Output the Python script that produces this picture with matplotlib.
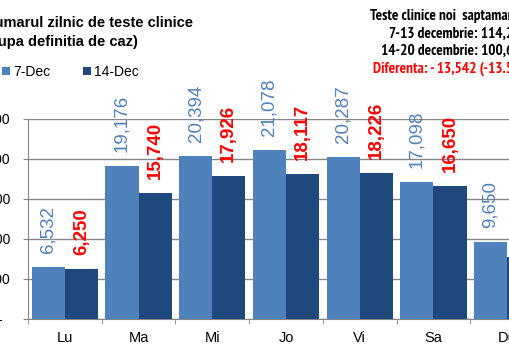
"""Daily clinical tests, two consecutive weeks (grouped bars)."""

import matplotlib

matplotlib.use("Agg")
import matplotlib.pyplot as plt
from matplotlib import font_manager
from matplotlib.ticker import FixedLocator, FuncFormatter

DAYS = ["Lu", "Ma", "Mi", "Jo", "Vi", "Sa", "Du"]
WEEK_7_DEC = [6532, 19176, 20394, 21078, 20287, 17098, 9650]
WEEK_14_DEC = [6250, 15740, 17926, 18117, 18226, 16650, 7764]
SERIES_NAMES = ["7-Dec", "14-Dec"]

TITLE = "Numarul zilnic de teste clinice\n(dupa definitia de caz)"
SUMMARY = [
    "Teste clinice noi  saptamanal:",
    "7-13 decembrie: 114,215",
    "14-20 decembrie: 100,673",
]
DIFF_LINE = "Diferenta: - 13,542 (-13.5%)"

LIGHT = "#4F81BD"
DARK = "#1F497D"
GRID = "#868686"

W, H = 510, 360
plt.rcParams["font.family"] = ["Liberation Sans", "DejaVu Sans"]


def narrow_bold_font():
    """Arial Narrow look-alike if installed, else plain bold at a smaller size."""
    for f in font_manager.fontManager.ttflist:
        name = f"{f.name} {f.fname}".lower()
        if "narrow" in name and "bold" in name and "italic" not in name:
            return font_manager.FontProperties(fname=f.fname, size=11)
    return font_manager.FontProperties(family="Liberation Sans", weight="bold", size=8.6)


fig = plt.figure(figsize=(W / 100, H / 100), dpi=100)
# plot area is wider than the picture: the source image is cropped left and right
ax = fig.add_axes([28 / W, 41 / H, 516 / W, 200 / H])

x = list(range(len(DAYS)))
bw = 0.45
b1 = ax.bar([i - bw / 2 for i in x], WEEK_7_DEC, bw, color=LIGHT, label=SERIES_NAMES[0], zorder=3)
b2 = ax.bar([i + bw / 2 for i in x], WEEK_14_DEC, bw, color=DARK, label=SERIES_NAMES[1], zorder=3)

for bar, v in zip(b1, WEEK_7_DEC):
    ax.annotate(f"{v:,}", (bar.get_x() + bar.get_width() / 2, v), xytext=(0, 14),
                textcoords="offset pixels", rotation=90, ha="center", va="bottom",
                fontsize=13.5, color=LIGHT, annotation_clip=False)
for bar, v in zip(b2, WEEK_14_DEC):
    ax.annotate(f"{v:,}", (bar.get_x() + bar.get_width() / 2, v), xytext=(0, 14),
                textcoords="offset pixels", rotation=90, ha="center", va="bottom",
                fontsize=13.5, color="#FF0000", fontweight="bold", annotation_clip=False)

ax.set_xlim(-0.5, len(DAYS) - 0.5)
ax.set_ylim(0, 25000)
ax.set_yticks(range(0, 25001, 5000))
ax.yaxis.set_major_formatter(FuncFormatter(lambda v, _: "-  " if v == 0 else f"{int(v):,}"))
ax.tick_params(axis="y", length=3.6, color=GRID, pad=9.4, labelsize=10)
ax.grid(axis="y", color=GRID, linewidth=1, zorder=0)

ax.set_xticks(x)
ax.set_xticklabels(DAYS)
ax.xaxis.set_minor_locator(FixedLocator([i - 0.5 for i in range(len(DAYS) + 1)]))
ax.tick_params(axis="x", which="major", length=0, pad=9, labelsize=10.5)
ax.tick_params(axis="x", which="minor", length=3.6, color=GRID)

for side in ("top", "right"):
    ax.spines[side].set_visible(False)
for side in ("left", "bottom"):
    ax.spines[side].set_color(GRID)

fig.text(-16 / W, 1 - 32.5 / H, TITLE, ha="left", va="center", fontsize=10.5,
         fontweight="bold", linespacing=1.5)

fig.legend(loc="center left", bbox_to_anchor=(2 / W, 1 - 72 / H), ncol=2, frameon=False,
           fontsize=10, handlelength=0.58, handleheight=0.58, handletextpad=0.25,
           columnspacing=2.3, borderpad=0, borderaxespad=0)

narrow = narrow_bold_font()
ys = [16, 34, 51]
for y, line in zip(ys, SUMMARY):
    fig.text(528 / W, 1 - y / H, line, ha="right", va="center", fontproperties=narrow)
fig.text(528 / W, 1 - 69 / H, DIFF_LINE, ha="right", va="center",
         fontproperties=narrow, color="#FF0000")

fig.savefig("out.png", dpi=100)
